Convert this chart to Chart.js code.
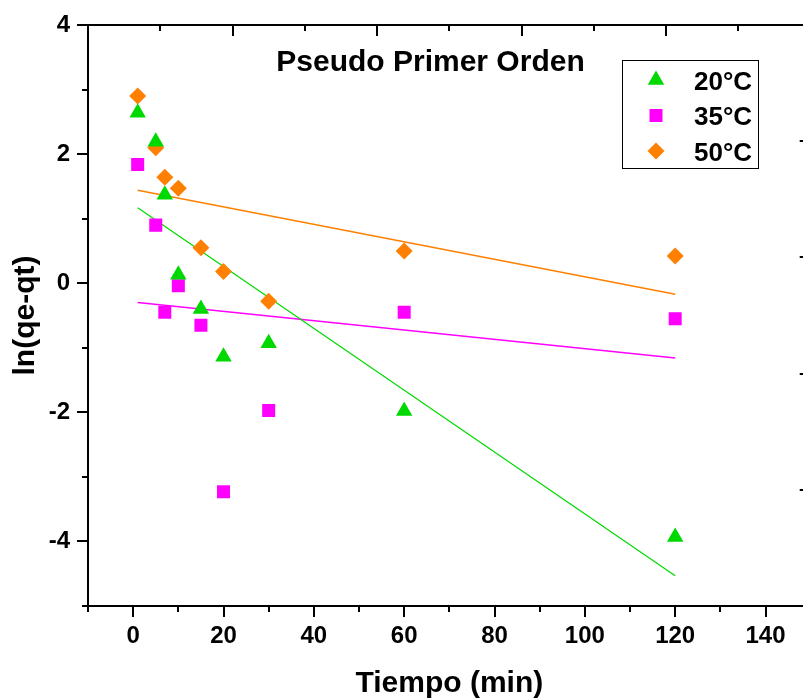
<!DOCTYPE html>
<html><head><meta charset="utf-8">
<script src="https://cdn.jsdelivr.net/npm/chart.js@4.4.0/dist/chart.umd.min.js"></script>
<style>
html,body{margin:0;padding:0;overflow:hidden;background:#fff;width:803px;height:700px}
#wrap{position:absolute;left:0;top:0;width:830px;height:700px}
</style>
</head><body><div id="wrap"><canvas id="c" width="830" height="700"></canvas></div>
<script>
// ---- data ----
const times = [1, 5, 7, 10, 15, 20, 30, 60, 120];
const lnQ20 = [2.64, 2.19, 1.37, 0.13, -0.40, -1.14, -0.93, -1.98, -3.93];
const lnQ35 = [1.84, 0.90, -0.45, -0.04, -0.65, -3.23, -1.97, -0.45, -0.55];
const lnQ50 = [2.90, 2.10, 1.64, 1.47, 0.55, 0.18, -0.28, 0.50, 0.42];
const fitX = [1, 120];
const fit20 = [1.17, -4.53];
const fit35 = [-0.30, -1.16];
const fit50 = [1.44, -0.17];
const xTicks = [0, 20, 40, 60, 80, 100, 120, 140];
const xMinor = [-10, 10, 30, 50, 70, 90, 110, 130, 150];
const yTicks = [-4, -2, 0, 2, 4];
const yMinor = [-5, -3, -1, 1, 3];
const topMajor = [22, 54, 86, 118, 150];
const topMinor = [-10, 6, 38, 70, 102, 134];
const rightTicks = [2.2, 0.4, -1.4, -3.2];
const seriesNames = ['20°C', '35°C', '50°C'];
const plotTitle = 'Pseudo Primer Orden';
const xTitle = 'Tiempo (min)';
const yTitle = 'ln(qe-qt)';

// ---- styling ----
const FONT = '"Liberation Sans", Arial, Helvetica, sans-serif';
const GREEN = '#00d900', MAGENTA = '#ff00ff', ORANGE = '#ff8000';
const styles = [
  {color: GREEN, pointStyle: 'triangle', radius: 9.5},
  {color: MAGENTA, pointStyle: 'rect', radius: 9.2},
  {color: ORANGE, pointStyle: 'rectRot', radius: 8.5}
];
const series = [lnQ20, lnQ35, lnQ50];
const fits = [fit20, fit35, fit50];
const fitWidths = [1.2, 1.5, 1.5];

const datasets = [];
series.forEach((vals, i) => {
  datasets.push({
    label: seriesNames[i],
    data: times.map((t, k) => ({x: t, y: vals[k]})),
    showLine: false,
    pointStyle: styles[i].pointStyle,
    pointRadius: styles[i].radius,
    pointHoverRadius: styles[i].radius,
    pointBackgroundColor: styles[i].color,
    pointBorderColor: styles[i].color,
    pointBorderWidth: 0,
    backgroundColor: styles[i].color,
    borderColor: styles[i].color
  });
});
fits.forEach((vals, i) => {
  datasets.push({
    label: 'fit ' + seriesNames[i],
    data: fitX.map((t, k) => ({x: t, y: vals[k]})),
    showLine: true,
    pointRadius: 0,
    pointHoverRadius: 0,
    borderColor: styles[i].color,
    borderWidth: fitWidths[i],
    fill: false
  });
});

function drawMarker(ctx, st, x, y) {
  ctx.fillStyle = st.color;
  if (Chart.helpers && Chart.helpers.drawPoint) {
    Chart.helpers.drawPoint(ctx, {pointStyle: st.pointStyle, radius: st.radius, rotation: 0, borderWidth: 0}, x, y);
    return;
  }
  const r = st.radius;
  ctx.beginPath();
  if (st.pointStyle === 'triangle') {
    ctx.moveTo(x, y - r);
    ctx.lineTo(x + r * Math.sin(2 * Math.PI / 3), y - r * Math.cos(2 * Math.PI / 3));
    ctx.lineTo(x + r * Math.sin(4 * Math.PI / 3), y - r * Math.cos(4 * Math.PI / 3));
  } else if (st.pointStyle === 'rect') {
    const s = Math.SQRT1_2 * r; ctx.rect(x - s, y - s, 2 * s, 2 * s);
  } else {
    ctx.moveTo(x - r, y); ctx.lineTo(x, y - r); ctx.lineTo(x + r, y); ctx.lineTo(x, y + r);
  }
  ctx.closePath(); ctx.fill();
}

const decor = {
  id: 'decor',
  afterDraw(chart) {
    const {ctx, chartArea: a, scales: {x, y}} = chart;
    ctx.save();
    ctx.strokeStyle = '#000';
    ctx.lineWidth = 2;
    ctx.lineCap = 'butt';
    const seg = (x1, y1, x2, y2) => { ctx.beginPath(); ctx.moveTo(x1, y1); ctx.lineTo(x2, y2); ctx.stroke(); };
    // top frame line
    seg(a.left - 1, a.top, a.right + 1, a.top);
    // left axis ticks (outward)
    yTicks.forEach(v => { const p = Math.round(y.getPixelForValue(v)); seg(a.left - 11, p, a.left, p); });
    yMinor.forEach(v => { const p = Math.round(y.getPixelForValue(v)); seg(a.left - 6, p, a.left, p); });
    // bottom axis ticks (outward)
    xTicks.forEach(v => { const p = Math.round(x.getPixelForValue(v)); seg(p, a.bottom, p, a.bottom + 11); });
    xMinor.forEach(v => { const p = Math.round(x.getPixelForValue(v)); seg(p, a.bottom, p, a.bottom + 6); });
    // top axis ticks (inward)
    topMajor.forEach(v => { const p = Math.round(x.getPixelForValue(v)); seg(p, a.top, p, a.top + 11); });
    topMinor.forEach(v => { const p = Math.round(x.getPixelForValue(v)); seg(p, a.top, p, a.top + 6); });
    // right axis ticks (inward)
    rightTicks.forEach(v => { const p = Math.round(y.getPixelForValue(v)); seg(a.right - 11, p, a.right, p); });

    // title inside plot
    ctx.fillStyle = '#000';
    ctx.font = 'bold 30px ' + FONT;
    ctx.textAlign = 'center';
    ctx.textBaseline = 'alphabetic';
    ctx.fillText(plotTitle, a.left + 342.5, a.top + 45.5);

    // legend box
    const bx = a.left + 534, by = a.top + 35, bw = 136, bh = 108;
    ctx.fillStyle = '#fff';
    ctx.fillRect(bx, by, bw, bh);
    ctx.lineWidth = 1;
    ctx.strokeStyle = '#000';
    ctx.strokeRect(bx + 0.5, by + 0.5, bw, bh);
    const rowY = [20, 55.5, 91];
    seriesNames.forEach((name, i) => {
      const cy = by + rowY[i];
      drawMarker(ctx, styles[i], bx + 34, cy);
      ctx.fillStyle = '#000';
      ctx.font = 'bold 26px ' + FONT;
      ctx.textAlign = 'left';
      ctx.textBaseline = 'alphabetic';
      ctx.fillText(name, bx + 72, cy + 9.5);
    });
    ctx.restore();
  }
};

const tickFont = {family: FONT, size: 24, weight: 'bold'};
const titleFont = {family: FONT, size: 30, weight: 'bold', lineHeight: 1};
const zeroPad = s => { s.paddingTop = 0; s.paddingBottom = 0; s.paddingLeft = 0; s.paddingRight = 0; };

new Chart(document.getElementById('c'), {
  type: 'scatter',
  data: {datasets},
  options: {
    responsive: false,
    animation: false,
    devicePixelRatio: 1,
    layout: {padding: {top: 25, right: 19.3, left: 0, bottom: 0}},
    plugins: {legend: {display: false}, tooltip: {enabled: false}},
    scales: {
      x: {
        type: 'linear', position: 'bottom', min: -10, max: 150,
        afterBuildTicks: s => { s.ticks = xTicks.map(v => ({value: v})); },
        afterFit: s => { s.height = 94; zeroPad(s); },
        grid: {display: false, drawTicks: false},
        border: {display: true, color: '#000', width: 2},
        ticks: {font: tickFont, color: '#000', padding: 16, maxRotation: 0, autoSkip: false, callback: v => String(v)},
        title: {display: true, text: xTitle, font: titleFont, color: '#000', padding: {top: 0, bottom: 1}}
      },
      y: {
        type: 'linear', position: 'left', min: -5, max: 4,
        afterBuildTicks: s => { s.ticks = yTicks.map(v => ({value: v})); },
        afterFit: s => { s.width = 88; zeroPad(s); },
        grid: {display: false, drawTicks: false},
        border: {display: true, color: '#000', width: 2},
        ticks: {font: tickFont, color: '#000', padding: 18, autoSkip: false, callback: v => String(v)},
        title: {display: true, text: yTitle, font: titleFont, color: '#000', padding: {top: 11, bottom: 0}}
      }
    }
  },
  plugins: [decor]
});
</script>
</body></html>
